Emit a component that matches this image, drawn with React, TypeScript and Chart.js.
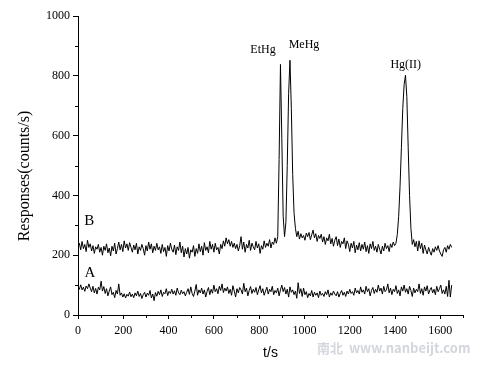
import React, { useEffect, useRef } from "react";
import { Chart, registerables } from "chart.js";

Chart.register(...registerables);

// sampling times (s)
const times = [
  0, 6, 12, 18, 24, 30, 36, 42, 48, 54,
  60, 66, 72, 78, 84, 90, 96, 102, 108, 114,
  120, 126, 132, 138, 144, 150, 156, 162, 168, 174,
  180, 186, 192, 198, 204, 210, 216, 222, 228, 234,
  240, 246, 252, 258, 264, 270, 276, 282, 288, 294,
  300, 306, 312, 318, 324, 330, 336, 342, 348, 354,
  360, 366, 372, 378, 384, 390, 396, 402, 408, 414,
  420, 426, 432, 438, 444, 450, 456, 462, 468, 474,
  480, 486, 492, 498, 504, 510, 516, 522, 528, 534,
  540, 546, 552, 558, 564, 570, 576, 582, 588, 594,
  600, 606, 612, 618, 624, 630, 636, 642, 648, 654,
  660, 666, 672, 678, 684, 690, 696, 702, 708, 714,
  720, 726, 732, 738, 744, 750, 756, 762, 768, 774,
  780, 786, 792, 798, 804, 810, 816, 822, 828, 834,
  840, 846, 852, 858, 864, 870, 876, 882, 888, 894,
  900, 906, 912, 918, 924, 930, 936, 942, 948, 954,
  960, 966, 972, 978, 984, 990, 996, 1002, 1008, 1014,
  1020, 1026, 1032, 1038, 1044, 1050, 1056, 1062, 1068, 1074,
  1080, 1086, 1092, 1098, 1104, 1110, 1116, 1122, 1128, 1134,
  1140, 1146, 1152, 1158, 1164, 1170, 1176, 1182, 1188, 1194,
  1200, 1206, 1212, 1218, 1224, 1230, 1236, 1242, 1248, 1254,
  1260, 1266, 1272, 1278, 1284, 1290, 1296, 1302, 1308, 1314,
  1320, 1326, 1332, 1338, 1344, 1350, 1356, 1362, 1368, 1374,
  1380, 1386, 1392, 1398, 1404, 1410, 1416, 1422, 1428, 1434,
  1440, 1446, 1452, 1458, 1464, 1470, 1476, 1482, 1488, 1494,
  1500, 1506, 1512, 1518, 1524, 1530, 1536, 1542, 1548, 1554,
  1560, 1566, 1572, 1578, 1584, 1590, 1596, 1602, 1608, 1614,
  1620, 1626, 1632, 1638, 1644, 1650,
];

// trace A (counts/s)
const seriesA = [
  95, 86, 101, 84, 93, 79, 97, 88, 104, 90,
  78, 96, 74, 89, 70, 93, 84, 113, 80, 95,
  72, 88, 64, 80, 94, 68, 76, 58, 82, 70,
  104, 66, 74, 60, 71, 57, 69, 63, 77, 61,
  70, 58, 74, 64, 80, 62, 72, 55, 68, 76,
  60, 73, 66, 82, 57, 70, 48, 75, 63, 79,
  68, 84, 62, 76, 71, 88, 65, 79, 72, 86,
  70, 81, 66, 90, 74, 68, 83, 71, 78, 64,
  76, 88, 69, 94, 72, 62, 80, 102, 66, 84,
  74, 90, 70, 84, 60, 79, 92, 68, 86, 73,
  100, 78, 88, 71, 96, 82, 104, 75, 90, 80,
  94, 72, 86, 66, 98, 80, 60, 88, 74, 92,
  84, 70, 106, 78, 90, 64, 82, 95, 72, 86,
  76, 92, 68, 84, 98, 74, 88, 66, 80, 93,
  70, 86, 78, 96, 68, 82, 74, 90, 64, 84,
  100, 78, 92, 70, 86, 60, 94, 76, 84, 68,
  80, 56, 108, 72, 88, 62, 90, 68, 78, 58,
  72, 64, 82, 60, 76, 66, 74, 58, 80, 66,
  72, 62, 78, 68, 84, 60, 74, 66, 80, 70,
  64, 78, 60, 72, 82, 66, 76, 62, 80, 70,
  86, 72, 78, 66, 90, 74, 82, 70, 94, 76,
  84, 70, 96, 78, 88, 64, 82, 92, 72, 86,
  76, 100, 80, 90, 70, 96, 78, 84, 104, 74,
  90, 68, 86, 78, 98, 72, 84, 64, 94, 80,
  100, 76, 88, 70, 96, 82, 62, 90, 74, 86,
  78, 104, 72, 88, 66, 94, 80, 98, 70, 84,
  92, 74, 86, 68, 96, 78, 88, 100, 72, 84,
  70, 96, 62, 116, 60, 100,
];

// trace B (counts/s)
const seriesB = [
  228, 240, 218, 246, 222, 236, 212, 250, 226, 238,
  214, 232, 206, 228, 220, 236, 210, 226, 200, 230,
  216, 238, 208, 224, 198, 230, 214, 240, 204, 222,
  244, 218, 236, 212, 248, 224, 238, 216, 242, 226,
  210, 234, 218, 240, 204, 228, 216, 236, 222, 200,
  232, 214, 244, 220, 238, 208, 230, 216, 240, 218,
  228, 206, 236, 212, 226, 196, 232, 214, 240, 220,
  210, 234, 202, 228, 216, 244, 208, 230, 194, 222,
  204, 226, 190, 218, 210, 232, 196, 222, 206, 238,
  212, 230, 200, 242, 216, 228, 208, 246, 220, 236,
  210, 240, 218, 226, 204, 236, 222, 248, 230, 258,
  238, 252, 230, 246, 226, 240, 222, 236, 214, 232,
  262, 220, 244, 210, 236, 224, 250, 216, 240, 228,
  218, 246, 224, 238, 206, 232, 220, 248, 226, 240,
  230, 252, 224, 244, 236, 258, 240, 262, 520, 838,
  590, 330, 262, 310, 500, 740, 852, 690, 470, 340,
  290, 262, 280, 254, 272, 258, 266, 250, 274, 262,
  276, 252, 268, 284, 258, 272, 246, 266, 256, 270,
  244, 262, 236, 258, 248, 270, 238, 256, 230, 250,
  262, 232, 254, 226, 246, 238, 258, 222, 248, 236,
  212, 240, 224, 246, 208, 234, 218, 242, 214, 236,
  220, 244, 212, 232, 206, 238, 222, 246, 216, 230,
  210, 236, 220, 204, 230, 214, 240, 222, 232, 212,
  238, 226, 244, 232, 240, 270, 330, 430, 560, 690,
  770, 802, 730, 560, 400, 290, 236, 252, 228, 246,
  214, 248, 222, 240, 206, 234, 218, 204, 226, 212,
  200, 222, 210, 228, 216, 232, 214, 204, 196, 218,
  226, 210, 232, 220, 236, 226,
];

const xMajorTicks = [0, 200, 400, 600, 800, 1000, 1200, 1400, 1600];
const xMinorTicks = [100, 300, 500, 700, 900, 1100, 1300, 1500, 1700];
const yMinorTicks = [100, 300, 500, 700, 900];

const traceLabels = [
  { text: "B", t: 50, v: 315 },
  { text: "A", t: 53, v: 140 },
];
const peakLabels = [
  { text: "EtHg", t: 817, v: 886 },
  { text: "MeHg", t: 998, v: 903 },
  { text: "Hg(II)", t: 1447, v: 836 },
];

const annotationPlugin = {
  id: "annotations",
  afterDraw(chart: any) {
    const { ctx, scales, chartArea } = chart;
    const xs = scales.x;
    const ys = scales.y;
    ctx.save();
    ctx.strokeStyle = "#000";
    ctx.lineWidth = 1;
    // minor ticks
    ctx.beginPath();
    xMinorTicks.forEach((t) => {
      const px = Math.round(xs.getPixelForValue(t)) + 0.5;
      ctx.moveTo(px, chartArea.bottom);
      ctx.lineTo(px, chartArea.bottom + 3);
    });
    yMinorTicks.forEach((v) => {
      const py = Math.round(ys.getPixelForValue(v)) + 0.5;
      ctx.moveTo(chartArea.left, py);
      ctx.lineTo(chartArea.left - 3, py);
    });
    ctx.stroke();

    ctx.fillStyle = "#000";
    ctx.textAlign = "center";
    ctx.textBaseline = "middle";
    ctx.font = '15px "Liberation Serif", "DejaVu Serif", serif';
    traceLabels.forEach((l) => {
      ctx.fillText(l.text, xs.getPixelForValue(l.t), ys.getPixelForValue(l.v));
    });
    ctx.font = '12px "Liberation Serif", "DejaVu Serif", serif';
    peakLabels.forEach((l) => {
      ctx.fillText(l.text, xs.getPixelForValue(l.t), ys.getPixelForValue(l.v));
    });

    // axis titles
    ctx.font = '14px "Liberation Sans", Arial, sans-serif';
    ctx.fillText("t/s", (chartArea.left + chartArea.right) / 2, 353);
    ctx.save();
    ctx.translate(25, 176);
    ctx.rotate(-Math.PI / 2);
    ctx.font = '16px "Liberation Serif", "DejaVu Serif", serif';
    ctx.fillText("Responses(counts/s)", 0, 0);
    ctx.restore();

    // watermark
    ctx.fillStyle = "#d3d6dc";
    ctx.font = 'bold 13px "Noto Sans CJK SC", "Liberation Sans", sans-serif';
    ctx.textAlign = "left";
    ctx.fillText("南北  www.nanbeijt.com", 317, 348);
    ctx.restore();
  },
};

export default function App() {
  const canvasRef = useRef<HTMLCanvasElement | null>(null);

  useEffect(() => {
    if (!canvasRef.current) return;
    const dataA = times.map((t, i) => ({ x: t, y: seriesA[i] }));
    const dataB = times.map((t, i) => ({ x: t, y: seriesB[i] }));
    const serif = '"Liberation Serif", "DejaVu Serif", serif';
    const chart = new Chart(canvasRef.current, {
      type: "line",
      data: {
        datasets: [
          {
            label: "A",
            data: dataA,
            borderColor: "#000",
            borderWidth: 1,
            pointRadius: 0,
            tension: 0,
            fill: false,
          },
          {
            label: "B",
            data: dataB,
            borderColor: "#000",
            borderWidth: 1,
            pointRadius: 0,
            tension: 0,
            fill: false,
          },
        ],
      },
      options: {
        animation: false,
        responsive: false,
        maintainAspectRatio: false,
        layout: { padding: { top: 16, right: 25, left: 0, bottom: 0 } },
        plugins: {
          legend: { display: false },
          tooltip: { enabled: false },
        },
        scales: {
          x: {
            type: "linear",
            min: 0,
            max: 1700,
            afterFit: (scale: any) => {
              scale.height = 54;
            },
            afterBuildTicks: (scale: any) => {
              scale.ticks = xMajorTicks.map((v) => ({ value: v }));
            },
            ticks: {
              color: "#000",
              font: { family: serif, size: 12 },
              padding: 5,
              maxRotation: 0,
              autoSkip: false,
              includeBounds: false,
              callback: (v: any) => String(v),
            },
            grid: {
              display: true,
              drawOnChartArea: false,
              tickLength: 4,
              color: "#000",
              tickColor: "#000",
            },
            border: { color: "#000", width: 1 },
          },
          y: {
            type: "linear",
            min: 0,
            max: 1000,
            afterFit: (scale: any) => {
              scale.width = 78;
            },
            ticks: {
              stepSize: 200,
              color: "#000",
              font: { family: serif, size: 12 },
              padding: 3,
              callback: (v: any) => String(v),
            },
            grid: {
              display: true,
              drawOnChartArea: false,
              tickLength: 5,
              color: "#000",
              tickColor: "#000",
            },
            border: { color: "#000", width: 1 },
          },
        },
      },
      plugins: [annotationPlugin],
    });
    return () => chart.destroy();
  }, []);

  return (
    <div
      style={{
        position: "absolute",
        left: 0,
        top: 0,
        width: 488,
        height: 369,
        background: "#fff",
      }}
    >
      <canvas ref={canvasRef} width={488} height={369} />
    </div>
  );
}
